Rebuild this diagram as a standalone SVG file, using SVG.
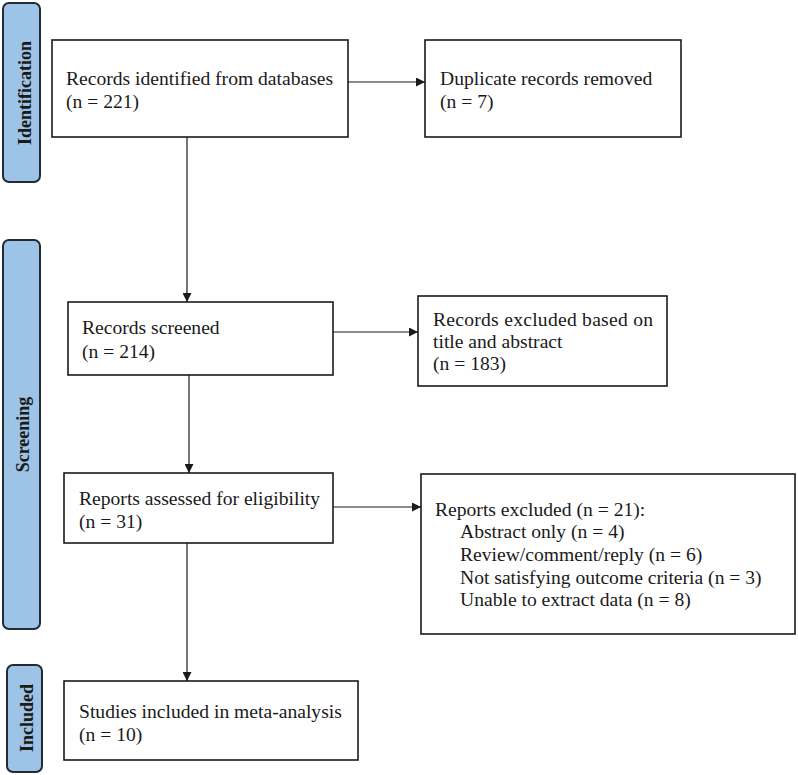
<svg xmlns="http://www.w3.org/2000/svg" width="798" height="775" viewBox="0 0 798 775">
<style>
.tab{fill:#9dc3e6;stroke:#222b33;stroke-width:2}
.box{fill:#fff;stroke:#1a1a1a;stroke-width:1.6}
.t{font-family:"Liberation Serif","Times New Roman",serif;font-size:19.6px;fill:#1a1a1a}
.tl{font-family:"Liberation Serif","Times New Roman",serif;font-size:18px;font-weight:bold;fill:#1a1a1a;text-anchor:middle}
.c{stroke:#1a1a1a;stroke-width:1.2;fill:none}
</style>
<defs>
<marker id="ah" viewBox="0 0 10 10" refX="10" refY="5" markerWidth="9" markerHeight="9" markerUnits="userSpaceOnUse" orient="auto">
<path d="M0,0 L10,5 L0,10 Z" fill="#1a1a1a"/>
</marker>
</defs>
<g id="tab-identification">
<rect class="tab" x="3" y="3" width="37" height="179" rx="6"/>
<text class="tl" transform="translate(31,93) rotate(-90)">Identification</text>
</g>
<g id="tab-screening">
<rect class="tab" x="3" y="240" width="37" height="389" rx="6"/>
<text class="tl" transform="translate(29,434.5) rotate(-90)">Screening</text>
</g>
<g id="tab-included">
<rect class="tab" x="7" y="665" width="35" height="107" rx="6"/>
<text class="tl" transform="translate(33,718) rotate(-90)">Included</text>
</g>
<g id="connectors">
<line class="c" x1="348" y1="82" x2="425" y2="82" marker-end="url(#ah)"/>
<line class="c" x1="187" y1="137" x2="187" y2="302" marker-end="url(#ah)"/>
<line class="c" x1="333" y1="332" x2="418" y2="332" marker-end="url(#ah)"/>
<line class="c" x1="189" y1="375" x2="189" y2="473" marker-end="url(#ah)"/>
<line class="c" x1="333" y1="507" x2="421" y2="507" marker-end="url(#ah)"/>
<line class="c" x1="187" y1="543" x2="187" y2="681" marker-end="url(#ah)"/>
</g>
<g id="identified">
<rect class="box" x="52" y="40" width="296" height="97"/>
<text class="t" x="66" y="85">Records identified from databases</text>
<text class="t" x="66" y="108">(n = 221)</text>
</g>
<g id="duplicates">
<rect class="box" x="425" y="40" width="256" height="97"/>
<text class="t" x="440" y="85">Duplicate records removed</text>
<text class="t" x="440" y="108">(n = 7)</text>
</g>
<g id="screened">
<rect class="box" x="68" y="302" width="265" height="73"/>
<text class="t" x="82" y="334">Records screened</text>
<text class="t" x="82" y="358">(n = 214)</text>
</g>
<g id="excluded-title">
<rect class="box" x="418" y="296" width="249" height="90"/>
<text class="t" x="433" y="326" textLength="220" lengthAdjust="spacing">Records excluded based on</text>
<text class="t" x="433" y="348">title and abstract</text>
<text class="t" x="433" y="370">(n = 183)</text>
</g>
<g id="assessed">
<rect class="box" x="64" y="473" width="269" height="70"/>
<text class="t" x="79" y="505">Reports assessed for eligibility</text>
<text class="t" x="79" y="528">(n = 31)</text>
</g>
<g id="reports-excluded">
<rect class="box" x="421" y="474" width="374" height="160"/>
<text class="t" x="435" y="516">Reports excluded (n = 21):</text>
<text class="t" x="460" y="538">Abstract only (n = 4)</text>
<text class="t" x="460" y="561">Review/comment/reply (n = 6)</text>
<text class="t" x="460" y="584">Not satisfying outcome criteria (n = 3)</text>
<text class="t" x="460" y="606">Unable to extract data (n = 8)</text>
</g>
<g id="included">
<rect class="box" x="64" y="681" width="294" height="79"/>
<text class="t" x="79" y="718">Studies included in meta-analysis</text>
<text class="t" x="79" y="741">(n = 10)</text>
</g>
</svg>
